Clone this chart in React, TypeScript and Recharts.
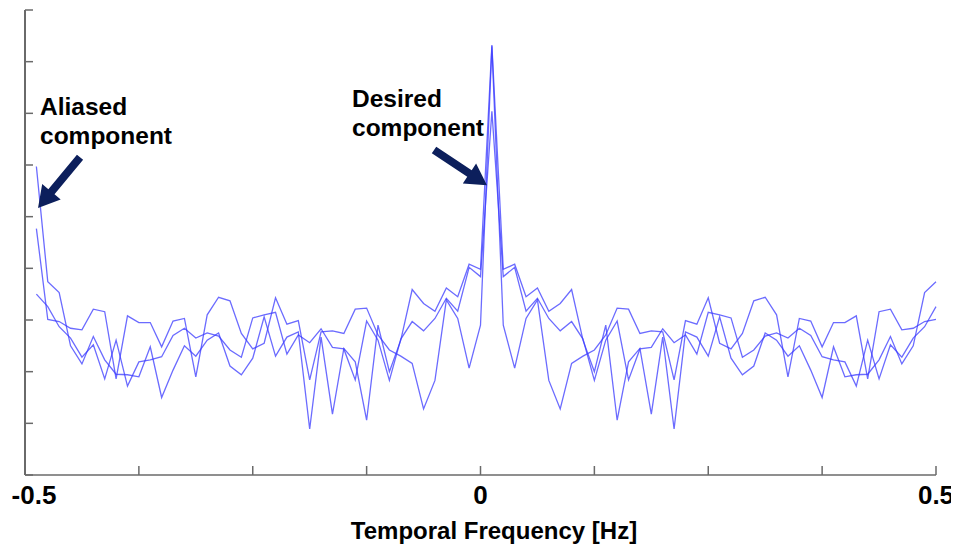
import { LineChart, Line, XAxis, YAxis, ReferenceLine } from "recharts";

// FFT bin centres, 80-point spectrum, fftshift order
const freqs = [
  -0.4875, -0.475, -0.4625, -0.45, -0.4375, -0.425, -0.4125, -0.4, -0.3875, -0.375,
  -0.3625, -0.35, -0.3375, -0.325, -0.3125, -0.3, -0.2875, -0.275, -0.2625, -0.25,
  -0.2375, -0.225, -0.2125, -0.2, -0.1875, -0.175, -0.1625, -0.15, -0.1375, -0.125,
  -0.1125, -0.1, -0.0875, -0.075, -0.0625, -0.05, -0.0375, -0.025, -0.0125, 0,
  0.0125, 0.025, 0.0375, 0.05, 0.0625, 0.075, 0.0875, 0.1, 0.1125, 0.125,
  0.1375, 0.15, 0.1625, 0.175, 0.1875, 0.2, 0.2125, 0.225, 0.2375, 0.25,
  0.2625, 0.275, 0.2875, 0.3, 0.3125, 0.325, 0.3375, 0.35, 0.3625, 0.375,
  0.3875, 0.4, 0.4125, 0.425, 0.4375, 0.45, 0.4625, 0.475, 0.4875, 0.5,
];

// three spectra (arbitrary magnitude units)
const specA = [
  5.97, 3.74, 3.53, 2.5, 2.15, 2.68, 2.23, 1.95, 1.94, 1.9,
  2.48, 1.5, 2.03, 2.5, 2.3, 2.61, 2.75, 2.11, 1.94, 2.26,
  3.06, 2.3, 2.67, 2.77, 0.89, 2.67, 1.18, 2.45, 2.19, 1.06,
  2.9, 2.0, 2.61, 3.59, 3.32, 3.17, 3.62, 3.45, 4.08, 3.98,
  8.32, 3.98, 4.08, 3.45, 3.62, 3.17, 3.32, 3.59, 2.61, 2.0,
  2.9, 1.06, 2.19, 2.45, 1.18, 2.67, 0.89, 2.77, 2.67, 2.3,
  3.06, 2.26, 1.94, 2.11, 2.75, 2.61, 2.3, 2.5, 2.03, 1.5,
  2.48, 1.9, 1.94, 1.95, 2.23, 2.68, 2.15, 2.5, 3.53, 3.74,
];
const specB = [
  4.77, 3.01, 2.97, 2.84, 2.81, 3.21, 3.16, 1.86, 3.08, 2.95,
  2.95, 2.48, 2.98, 3.03, 1.9, 3.1, 3.44, 3.37, 2.74, 2.44,
  2.55, 3.43, 2.92, 2.99, 1.84, 2.77, 2.79, 2.74, 3.21, 3.23,
  2.71, 2.42, 2.3, 2.16, 1.28, 1.83, 3.39, 3.03, 2.07, 2.9,
  8.3, 2.9, 2.07, 3.03, 3.39, 1.83, 1.28, 2.16, 2.3, 2.42,
  2.71, 3.23, 3.21, 2.74, 2.79, 2.77, 1.84, 2.99, 2.92, 3.43,
  2.55, 2.44, 2.74, 3.37, 3.44, 3.1, 1.9, 3.03, 2.98, 2.48,
  2.95, 2.95, 3.08, 1.86, 3.16, 3.21, 2.81, 2.84, 2.97, 3.01,
];
const specC = [
  3.5, 3.26, 2.87, 2.65, 2.28, 2.52, 1.86, 2.61, 1.72, 2.19,
  2.23, 2.29, 2.7, 2.84, 2.65, 2.75, 2.69, 2.42, 2.28, 3.04,
  3.1, 3.15, 2.34, 2.71, 2.56, 2.83, 2.47, 2.44, 1.84, 2.98,
  2.61, 1.83, 2.63, 2.97, 2.79, 3.03, 3.42, 3.17, 4.02, 3.84,
  7.04, 3.84, 4.02, 3.17, 3.42, 3.03, 2.79, 2.97, 2.63, 1.83,
  2.61, 2.98, 1.84, 2.44, 2.47, 2.83, 2.56, 2.71, 2.34, 3.15,
  3.1, 3.04, 2.28, 2.42, 2.69, 2.75, 2.65, 2.84, 2.7, 2.29,
  2.23, 2.19, 1.72, 2.61, 1.86, 2.52, 2.28, 2.65, 2.87, 3.26,
];

const xTicks = [-0.5, -0.375, -0.25, -0.125, 0, 0.125, 0.25, 0.375, 0.5];
const xLabels = [-0.5, 0, 0.5];
const yTicks = [0, 1, 2, 3, 4, 5, 6, 7, 8, 9];

// arrow segments: [tail, tip] in data units
const aliasedArrow = [
  { x: -0.4396, y: 6.15 },
  { x: -0.4857, y: 5.17 },
];
const desiredArrow = [
  { x: -0.051, y: 6.29 },
  { x: 0.0071, y: 5.61 },
];

const data = freqs.map((f, i) => ({ f, a: specA[i], b: specB[i], c: specC[i] }));

const FONT = "'Liberation Sans', Arial, sans-serif";
const LINE_COLOR = "#3a3aff";
const ARROW_COLOR = "#0c1f5c";

function FreqTick(props: any) {
  const { x, y, payload } = props;
  if (!xLabels.includes(payload.value)) return <g />;
  const label = payload.value === 0 ? "0" : String(payload.value);
  const dx = payload.value === -0.5 ? 9 : 0;
  return (
    <text
      x={x + dx}
      y={y + 29}
      textAnchor="middle"
      fontFamily={FONT}
      fontWeight="bold"
      fontSize={26}
      fill="#000"
    >
      {label}
    </text>
  );
}

// y axis keeps its tick marks but shows no numbers
function BlankTick() {
  return <g />;
}

function Arrow(props: any) {
  const { x1, y1, x2, y2 } = props;
  const dx = x2 - x1;
  const dy = y2 - y1;
  const len = Math.sqrt(dx * dx + dy * dy);
  const ux = dx / len;
  const uy = dy / len;
  const nx = -uy;
  const ny = ux;
  const head = 21;
  const halfHead = 12;
  const halfShaft = 4;
  const bx = x2 - ux * head;
  const by = y2 - uy * head;
  const pts = [
    [x1 + nx * halfShaft, y1 + ny * halfShaft],
    [bx + nx * halfShaft, by + ny * halfShaft],
    [bx + nx * halfHead, by + ny * halfHead],
    [x2, y2],
    [bx - nx * halfHead, by - ny * halfHead],
    [bx - nx * halfShaft, by - ny * halfShaft],
    [x1 - nx * halfShaft, y1 - ny * halfShaft],
  ];
  return <polygon points={pts.map((p) => p.join(",")).join(" ")} fill={ARROW_COLOR} />;
}

const noteStyle: React.CSSProperties = {
  position: "absolute",
  fontFamily: FONT,
  fontWeight: "bold",
  fontSize: 24.5,
  lineHeight: "29px",
  color: "#000",
  whiteSpace: "pre",
};

export default function App() {
  return (
    <div style={{ position: "relative", width: 951, height: 539, background: "#fff" }}>
      <LineChart
        width={951}
        height={539}
        data={data}
        margin={{ top: 2, right: 23, bottom: 42, left: 16 }}
      >
        <XAxis
          dataKey="f"
          type="number"
          domain={[-0.5, 0.5]}
          ticks={xTicks}
          interval={0}
          height={30}
          tickSize={-9}
          tickMargin={9}
          tick={<FreqTick />}
          stroke="#6a6a6a"
          strokeWidth={1.5}
        />
        <YAxis
          type="number"
          domain={[0, 9]}
          ticks={yTicks}
          interval={0}
          width={1}
          tickSize={-8}
          tick={<BlankTick />}
          tickLine={{ stroke: "#6a6a6a", strokeWidth: 1.5 }}
          stroke="#6a6a6a"
          strokeWidth={2}
        />
        <Line dataKey="c" type="linear" stroke={LINE_COLOR} strokeOpacity={0.75} strokeWidth={1.3} dot={false} isAnimationActive={false} />
        <Line dataKey="b" type="linear" stroke={LINE_COLOR} strokeOpacity={0.75} strokeWidth={1.3} dot={false} isAnimationActive={false} />
        <Line dataKey="a" type="linear" stroke={LINE_COLOR} strokeOpacity={0.75} strokeWidth={1.3} dot={false} isAnimationActive={false} />
        <ReferenceLine segment={aliasedArrow} ifOverflow="visible" shape={<Arrow />} />
        <ReferenceLine segment={desiredArrow} ifOverflow="visible" shape={<Arrow />} />
      </LineChart>
      <div style={{ ...noteStyle, left: 32, top: 84 }}>{"Aliased\ncomponent"}</div>
      <div style={{ ...noteStyle, left: 344, top: 76 }}>{"Desired\ncomponent"}</div>
      <div
        style={{
          position: "absolute",
          left: 286,
          top: 509,
          width: 400,
          textAlign: "center",
          fontFamily: FONT,
          fontWeight: "bold",
          fontSize: 24,
          color: "#000",
        }}
      >
        Temporal Frequency [Hz]
      </div>
    </div>
  );
}
